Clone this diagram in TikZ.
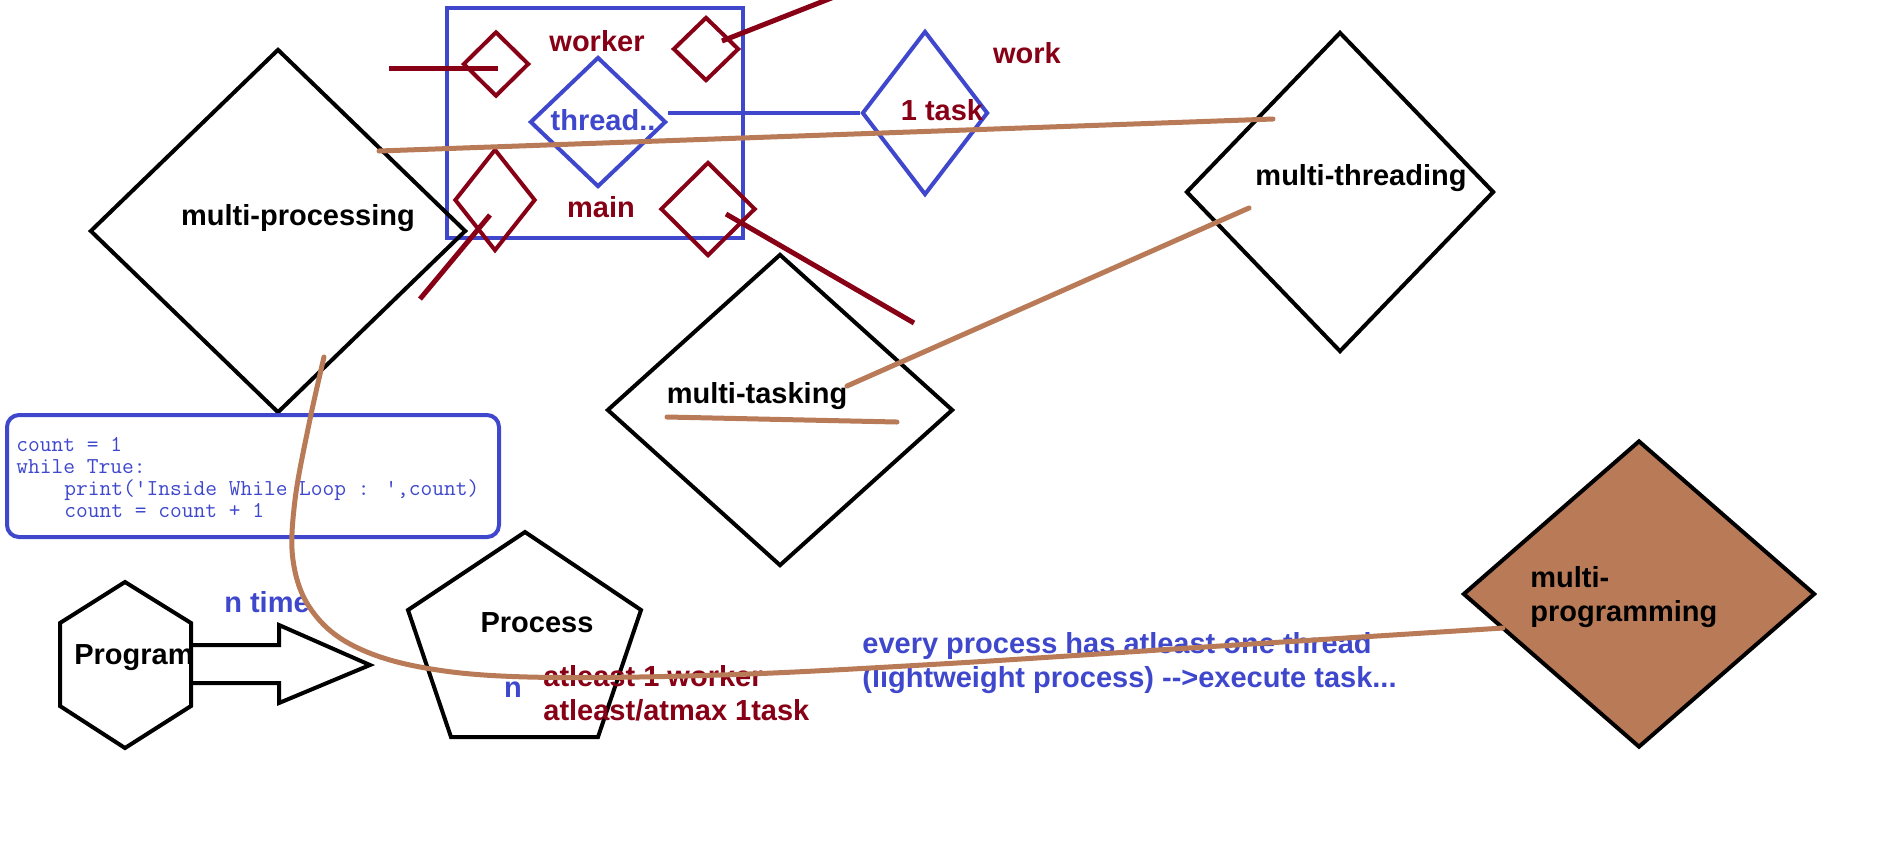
\documentclass[tikz,border=0pt]{standalone}
\usepackage{fontspec}
\setmainfont{Liberation Sans}
\usetikzlibrary{shapes.geometric}
\definecolor{indigo}{RGB}{63,72,204}
\definecolor{dred}{RGB}{136,0,21}
\definecolor{brn}{RGB}{185,122,87}
\begin{document}
\begin{tikzpicture}[x=0.5pt,y=-0.5pt,
  dia/.style={shape=diamond, draw=black, line width=2pt, inner sep=0pt},
  lbl/.style={font=\fontsize{14.5}{17}\selectfont\bfseries, inner sep=0pt, anchor=base},
  lblw/.style={lbl, anchor=base west},
  code/.style={font=\fontsize{11.4}{11}\selectfont\ttfamily, text=indigo, inner sep=0pt, anchor=base west},
  redline/.style={draw=dred, line width=2.5pt},
  brline/.style={draw=brn, line width=2.5pt, line cap=round, line join=round},
  shapeline/.style={draw=black, line width=2pt, line join=miter}]
\fill[white] (0,0) rectangle (1879,848);
\useasboundingbox (0,0) rectangle (1879,848);

% blue frame
\draw[indigo, line width=2pt] (447,8) rectangle (743,238);

% diamonds
\node[dia, minimum width=188pt, minimum height=182pt] (mp) at (278,231) {};
\node[dia, minimum width=154pt, minimum height=160pt] (mt) at (1340,192) {};
\node[dia, minimum width=173pt, minimum height=156pt] (mtask) at (780,410) {};
\node[dia, fill=brn, minimum width=176pt, minimum height=153.5pt] (mprog) at (1639,594) {};
\node[dia, draw=indigo, minimum width=68pt, minimum height=65pt] (thread) at (598,122) {};
\node[dia, draw=indigo, minimum width=63pt, minimum height=82pt] (task) at (925,113) {};
\node[dia, draw=dred, minimum width=33pt, minimum height=32.5pt] (d1) at (496,64) {};
\node[dia, draw=dred, minimum width=33pt, minimum height=32pt] (d2) at (706,49) {};
\node[dia, draw=dred, minimum width=40.5pt, minimum height=51pt] (d3) at (495,200) {};
\node[dia, draw=dred, minimum width=47.5pt, minimum height=47pt] (d4) at (708,209) {};

% blue connector thread -> 1 task
\draw[indigo, line width=2pt] (thread.east |- task.west) -- (task.west);

% code box
\draw[indigo, line width=2pt, rounded corners=6pt] (7,415) rectangle (499,537);
\node[code] (c1) at (16,451) {count = 1};
\node[code] (c2) at (16,473) {while True:};
\node[code] (c3) at (64,495) {print(\textquotesingle Inside While Loop : \textquotesingle,count)};
\node[code] (c4) at (64,517) {count = count + 1};

% hexagon Program
\draw[shapeline] (125,582) -- (191,623) -- (191,706) -- (125,748) -- (60,706) -- (60,623) -- cycle;
% block arrow
\draw[shapeline] (191,645) -- (279,645) -- (279,625) -- (370,665) -- (279,703) -- (279,683) -- (191,683);
% pentagon Process
\draw[shapeline] (525,532) -- (641,610) -- (598,737) -- (451,737) -- (408,610) -- cycle;

% labels
\node[lbl] (tmp) at (298,225) {multi-processing};
\node[lbl] (ttask) at (757,403) {multi-tasking};
\node[lbl] (tmt) at (1361,185) {multi-threading};
\node[lbl, text=dred] (tworker) at (597,51) {worker};
\node[lbl, text=indigo] (tthread) at (603,130) {thread..};
\node[lbl, text=dred] (tmain) at (601,217) {main};
\node[lbl, text=dred] (ttask1) at (942,120) {1 task};
\node[lbl, text=dred] (twork) at (1027,63) {work};
\node[lbl] (tprog) at (134,664) {Program};
\node[lbl, text=indigo] (tntime) at (267,612) {n time};
\node[lbl] (tproc) at (537,632) {Process};
\node[lbl, text=indigo] (tn) at (513,697) {n};
\node[lblw, text=dred] (tat1) at (543,686) {atleast 1 worker};
\node[lblw, text=dred] (tat2) at (543,720) {atleast/atmax 1task};
\node[lblw, text=indigo] (tev1) at (862,653) {every process has atleast one thread};
\node[lblw, text=indigo] (tev2) at (862,687) {(lightweight process) -{}->execute task...};
\node[lblw] (tmp1) at (1530,587) {multi-};
\node[lblw] (tmp2) at (1530,621) {programming};

% dark red strokes
\coordinate (r1a) at (389,68);  \coordinate (r1b) at (498,68);
\coordinate (r2a) at (722,41);  \coordinate (r2b) at (834,-3);
\coordinate (r3a) at (490,215); \coordinate (r3b) at (420,299);
\coordinate (r4a) at (726,214); \coordinate (r4b) at (914,323);
\draw[redline] (r1a) -- (r1b);
\draw[redline] (r2a) -- (r2b);
\draw[redline] (r3a) -- (r3b);
\draw[redline] (r4a) -- (r4b);

% brown strokes
\coordinate (b1a) at (379,151); \coordinate (b1b) at (1273,119);
\coordinate (b2a) at (847,386); \coordinate (b2b) at (1249,208);
\coordinate (b3a) at (667,417); \coordinate (b3b) at (897,422);
\coordinate (b4a) at (324,357); \coordinate (b4b) at (1503,628);
\draw[brline] (b1a) -- (b1b);
\draw[brline] (b2a) -- (b2b);
\draw[brline] (b3a) -- (b3b);
\draw[brline] plot[smooth, tension=0.6] coordinates {(b4a) (309,424) (295,500) (293,560) (310,608) (350,644) (420,667) (528,677) (720,675) (940,664) (1220,646) (b4b)};
\end{tikzpicture}
\end{document}
